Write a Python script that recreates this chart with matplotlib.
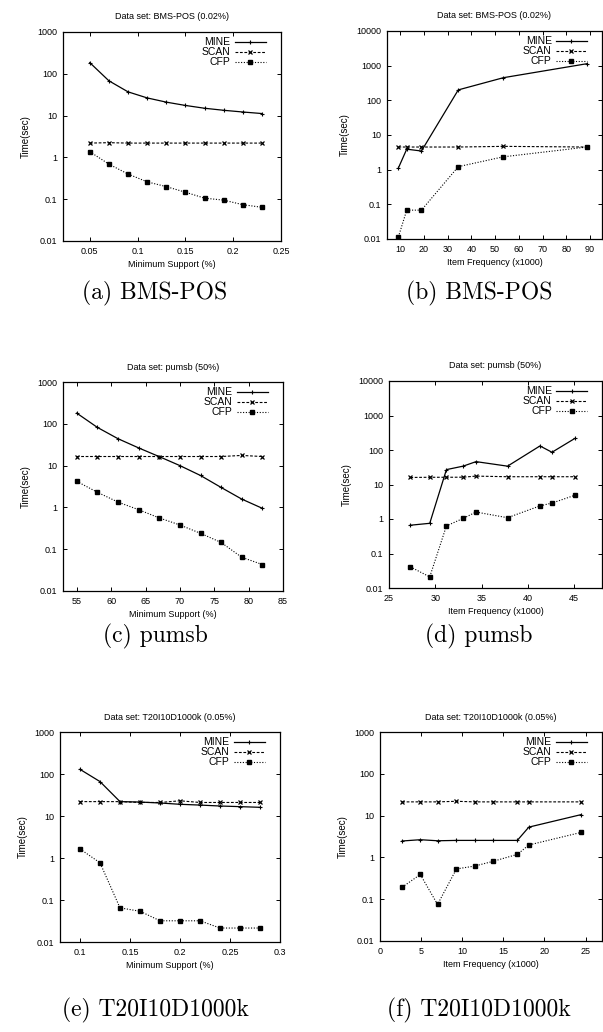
import matplotlib
matplotlib.use('Agg')
from matplotlib import pyplot as plt
from matplotlib.ticker import FixedLocator, NullLocator, FormatStrFormatter

plt.rcParams['font.family'] = ['Liberation Sans', 'DejaVu Sans']

# (a) BMS-POS, varying minimum support
sup_bms = [0.05, 0.07, 0.09, 0.11, 0.13, 0.15, 0.17, 0.19, 0.21, 0.23]
mine_a = [185, 68, 37, 26.5, 21, 17.5, 15, 13.4, 12.2, 11.2]
scan_a = [2.2, 2.25, 2.2, 2.2, 2.2, 2.2, 2.2, 2.2, 2.2, 2.2]
cfp_a = [1.37, 0.69, 0.40, 0.26, 0.2, 0.147, 0.106, 0.095, 0.074, 0.064]

# (b) BMS-POS, varying item frequency
freq_bms = [9.3, 12.8, 19, 34.5, 53.5, 88.7]
mine_b = [1.12, 3.9, 3.45, 200, 450, 1140]
scan_b = [4.5, 4.5, 4.5, 4.5, 4.7, 4.5]
cfp_b = [0.0115, 0.068, 0.068, 1.22, 2.35, 4.5]

# (c) pumsb, varying minimum support
sup_pumsb = [55, 58, 61, 64, 67, 70, 73, 76, 79, 82]
mine_c = [180, 82, 44, 26.5, 16.4, 10, 5.8, 3.0, 1.58, 0.95]
scan_c = [16.5, 16.5, 16.5, 16.5, 16.5, 16.5, 16.5, 16.5, 17.5, 16.5]
cfp_c = [4.2, 2.3, 1.34, 0.88, 0.56, 0.38, 0.24, 0.145, 0.064, 0.043]

# (d) pumsb, varying item frequency
freq_pumsb = [27.3, 29.4, 31.2, 33.0, 34.4, 37.8, 41.3, 42.6, 45.1]
mine_d = [0.66, 0.75, 27, 34, 46, 34, 131, 86, 219]
scan_d = [16, 16.2, 16.2, 16.3, 17.5, 16.8, 16.8, 16.8, 16.8]
cfp_d = [0.041, 0.021, 0.63, 1.04, 1.59, 1.09, 2.4, 2.9, 4.9]

# (e) T20I10D1000k, varying minimum support
sup_t20 = [0.10, 0.12, 0.14, 0.16, 0.18, 0.20, 0.22, 0.24, 0.26, 0.28]
mine_e = [129, 66, 22, 21.5, 20.4, 19, 18.2, 17.3, 16.7, 16.1]
scan_e = [22, 22, 22, 21, 21, 23, 21, 21, 21, 21]
cfp_e = [1.64, 0.77, 0.065, 0.054, 0.032, 0.032, 0.032, 0.0215, 0.0215, 0.0215]

# (f) T20I10D1000k, varying item frequency
freq_t20 = [2.7, 4.9, 7.0, 9.3, 11.5, 13.7, 16.7, 18.1, 24.5]
mine_f = [2.47, 2.65, 2.5, 2.55, 2.55, 2.55, 2.55, 5.3, 10.6]
scan_f = [21.3, 21.3, 21.3, 22, 21.3, 21.3, 21.3, 21.3, 21.3]
cfp_f = [0.194, 0.39, 0.075, 0.53, 0.62, 0.80, 1.18, 1.98, 3.98]

W, H = 603.0, 1032.0


def add_axes_px(fig, left, top, right, bottom):
    return fig.add_axes([left / W, 1 - bottom / H, (right - left) / W, (bottom - top) / H])


def draw_panel(ax, x, mine, scan, cfp, title, xlabel, xlim, xticks, ytop):
    ax.plot(x, mine, color='black', lw=0.9, marker='+', ms=3.5, mew=0.8, label='MINE')
    ax.plot(x, scan, color='black', lw=0.8, dashes=(2.5, 1.5), marker='x', ms=2.6, mew=0.9,
            label='SCAN')
    ax.plot(x, cfp, color='black', lw=0.8, dashes=(1, 1.5), marker='s', ms=2.2, label='CFP')
    ax.set_yscale('log')
    ax.set_ylim(0.01, ytop)
    ax.set_xlim(*xlim)
    yt = [10.0 ** k for k in range(-2, 5) if 10.0 ** k <= ytop]
    ax.yaxis.set_major_locator(FixedLocator(yt))
    ax.yaxis.set_major_formatter(FormatStrFormatter('%g'))
    ax.yaxis.set_minor_locator(NullLocator())
    ax.xaxis.set_major_locator(FixedLocator(xticks))
    ax.xaxis.set_major_formatter(FormatStrFormatter('%g'))
    ax.tick_params(direction='in', top=True, right=True, length=3, width=0.7,
                   labelsize=6.5, pad=4)
    for s in ax.spines.values():
        s.set_linewidth(0.9)
    ax.set_title(title, fontsize=6.5, pad=9)
    ax.set_xlabel(xlabel, fontsize=6.5, labelpad=3)
    ax.set_ylabel('Time(sec)', fontsize=7, labelpad=5)
    ax.legend(loc='upper right', bbox_to_anchor=(0.955, 1.0), markerfirst=False,
              frameon=False, fontsize=7.5, handlelength=3.0, handletextpad=0.4,
              labelspacing=0.0, borderaxespad=0.3, borderpad=0.2)


fig = plt.figure(figsize=(W / 100, H / 100), dpi=100)

ax = add_axes_px(fig, 63, 32, 281, 241)
draw_panel(ax, sup_bms, mine_a, scan_a, cfp_a, 'Data set: BMS-POS (0.02%)',
           'Minimum Support (%)', (0.022, 0.25), [0.05, 0.1, 0.15, 0.2, 0.25], 1000)

ax = add_axes_px(fig, 387, 31, 602, 239)
draw_panel(ax, freq_bms, mine_b, scan_b, cfp_b, 'Data set: BMS-POS (0.02%)',
           'Item Frequency (x1000)', (4.5, 95), [10, 20, 30, 40, 50, 60, 70, 80, 90], 10000)

ax = add_axes_px(fig, 63, 382, 283, 591)
draw_panel(ax, sup_pumsb, mine_c, scan_c, cfp_c, 'Data set: pumsb (50%)',
           'Minimum Support (%)', (53, 85), [55, 60, 65, 70, 75, 80, 85], 1000)

ax = add_axes_px(fig, 389, 381, 602, 588)
draw_panel(ax, freq_pumsb, mine_d, scan_d, cfp_d, 'Data set: pumsb (50%)',
           'Item Frequency (x1000)', (25, 48), [25, 30, 35, 40, 45], 10000)

ax = add_axes_px(fig, 60, 732, 280, 942)
draw_panel(ax, sup_t20, mine_e, scan_e, cfp_e, 'Data set: T20I10D1000k (0.05%)',
           'Minimum Support (%)', (0.08, 0.3), [0.1, 0.15, 0.2, 0.25, 0.3], 1000)

ax = add_axes_px(fig, 380, 732, 602, 941)
draw_panel(ax, freq_t20, mine_f, scan_f, cfp_f, 'Data set: T20I10D1000k (0.05%)',
           'Item Frequency (x1000)', (0, 27), [0, 5, 10, 15, 20, 25], 1000)

captions = ['(a) BMS-POS', '(b) BMS-POS', '(c) pumsb', '(d) pumsb',
            '(e) T20I10D1000k', '(f) T20I10D1000k']
cap_x = [155, 479]
cap_y = [293, 636, 1010]
for i, cap in enumerate(captions):
    fig.text(cap_x[i % 2] / W, 1 - cap_y[i // 2] / H, cap, family='cmr10', fontsize=17,
             ha='center', va='center')

fig.savefig('out.png', dpi=100)
